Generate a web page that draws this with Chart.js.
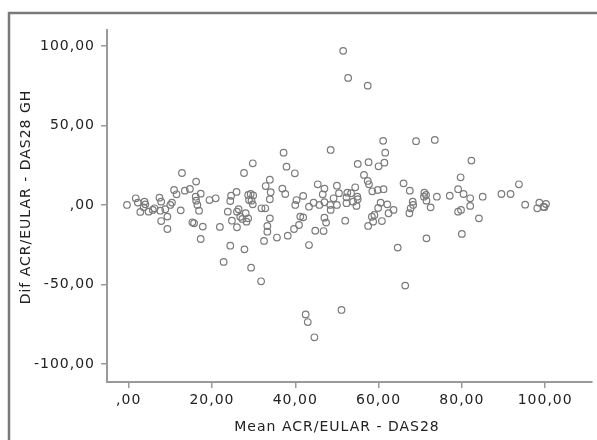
<!DOCTYPE html>
<html>
<head>
<meta charset="utf-8">
<script src="https://cdn.jsdelivr.net/npm/chart.js@4.4.1/dist/chart.umd.min.js"></script>
<style>
  html, body { margin: 0; padding: 0; background: #fff; }
  #wrap { width: 597px; height: 440px; }
</style>
</head>
<body>
<div id="wrap"><canvas id="blandAltman" width="597" height="440"></canvas></div>
<script>
// Mean of the two scores (x) and their difference (y), one entry per patient
const meanValues = [
  -0.4, 1.7, 2.2, 3.8, 4.0, 3.6, 2.8, 4.8, 5.8, 6.2, 7.4, 7.8, 7.6, 8.8, 10.0, 10.4, 9.3, 7.8, 9.3,
  10.9, 11.5, 12.8, 12.5, 13.5, 14.7, 16.2, 16.1, 16.2, 16.5, 16.9, 17.3, 15.3, 15.7, 17.8, 17.3,
  19.4, 20.9, 21.9,
  37.2, 48.5, 29.8, 27.7, 37.9, 39.9, 33.9, 32.9, 34.1, 33.9, 36.9, 37.6, 40.3, 40.0, 41.9, 43.3,
  44.4, 45.4, 47.0, 46.6, 45.8, 47.0, 48.4, 49.2, 50.0, 50.0, 48.5, 47.0, 47.4, 46.8, 44.8, 43.3,
  23.8, 24.6, 24.4, 25.9, 24.8, 26.0, 26.4, 26.8, 27.3, 28.1, 28.7, 28.3, 26.0, 28.7, 29.3, 29.9,
  28.9, 29.5, 29.8, 31.9, 32.8, 33.9, 33.3, 33.3, 32.5, 35.6, 38.2, 39.7, 40.9, 41.2, 41.9, 24.4, 27.8,
  61.6, 61.4, 60.0, 57.6, 55.0, 56.5, 57.4, 57.7, 58.5, 59.8, 61.2, 50.5, 52.5, 53.4, 52.3, 54.4,
  54.9, 55.0, 53.9, 52.3, 54.7, 52.0, 60.5, 62.1, 59.9, 63.6, 62.4, 60.8, 59.0, 58.4, 58.7, 57.5,
  66.0, 67.5, 68.2, 68.3, 67.7, 67.4, 71.0, 71.4, 70.9, 71.5, 72.5, 74.0, 77.1, 79.1, 79.7, 80.4,
  79.1, 79.8, 80.0, 71.5, 64.6,
  82.3, 82.0, 82.0, 85.0, 84.1, 89.5, 91.7, 93.7, 95.2, 98.6, 98.1, 99.6, 100.2, 99.8,
  22.8, 29.4, 31.8, 42.5, 43.0, 44.6, 51.1, 66.4, 51.5, 52.7, 57.4, 61.1, 69.0, 73.5
];
const diffValues = [
  0.0, 4.2, 1.5, 2.1, 0.4, -1.5, -4.4, -4.2, -3.1, -2.1, 4.6, 2.1, -3.6, -2.7, 0.0, 1.5, -7.3, -10.1, -15.1,
  9.4, 6.7, 20.1, -3.4, 9.0, 10.1, 14.7, 5.2, 2.7, 0.0, -3.6, 7.1, -10.9, -11.5, -13.6, -21.4,
  3.1, 4.2, -13.8,
  32.9, 34.6, 26.2, 20.1, 24.1, 19.9, 15.9, 11.9, 8.0, 3.6, 10.3, 6.9, 3.1, 0.0, 5.7, -1.1,
  1.4, 13.0, 10.3, 6.7, 0.0, 1.7, 0.0, 4.2, 12.1, 0.0, -3.1, -8.0, -11.1, -16.4, -16.2, -25.2,
  -4.2, 5.8, 2.5, 8.2, -9.9, -4.2, -2.7, -7.4, -8.8, -5.2, -8.4, -10.5, -14.0, 6.3, 6.9, 6.0,
  3.1, 2.7, 0.4, -2.1, -2.1, -8.4, -13.2, -16.8, -22.6, -20.5, -19.3, -15.1, -12.6, -7.3, -7.8, -25.6, -27.9,
  32.9, 26.6, 24.3, 26.9, 25.8, 18.9, 15.1, 13.0, 8.6, 9.4, 9.9, 7.4, 7.7, 7.4, 4.8, 11.1,
  5.2, 3.6, 2.1, 1.1, -0.6, -9.9, 1.4, 0.4, -1.9, -3.1, -5.2, -10.1, -6.3, -7.4, -10.5, -13.2,
  13.6, 9.0, 2.1, 0.0, -2.1, -5.2, 7.7, 6.3, 5.2, 2.7, -1.5, 5.2, 5.8, 9.9, 17.4, 6.9,
  -4.2, -3.1, -18.2, -21.0, -26.8,
  27.9, 4.2, -0.6, 5.2, -8.4, 6.9, 6.9, 13.0, 0.2, 1.4, -2.1, -1.1, 0.6, -1.4,
  -35.8, -39.4, -48.0, -68.8, -73.6, -83.2, -66.0, -50.7, 96.9, 79.9, 75.0, 40.3, 40.1, 40.9
];

// Axis ticks and their labels (decimal comma, as in the original)
const xTickValues = [0, 20, 40, 60, 80, 100];
const xTickLabels = [',00', '20,00', '40,00', '60,00', '80,00', '100,00'];
const yTickValues = [-100, -50, 0, 50, 100];
const yTickLabels = ['-100,00', '-50,00', ',00', '50,00', '100,00'];

const xTitle = 'Mean ACR/EULAR - DAS28';
const yTitle = 'Dif ACR/EULAR - DAS28 GH';

const points = meanValues.map((m, i) => ({ x: m, y: diffValues[i] }));

const labelFont = { family: 'DejaVu Sans', size: 14 };
const axisGray = '#9a9a9a';
const textColor = '#222';

// outer frame, text spacing and the two axis titles
const framePlugin = {
  id: 'frame',
  beforeUpdate(chart) { chart.ctx.letterSpacing = '1px'; },
  beforeDraw(chart) {
    const ctx = chart.ctx;
    ctx.letterSpacing = '1px';
    ctx.save();
    ctx.strokeStyle = '#7a7a7a';
    ctx.lineWidth = 2.5;
    ctx.strokeRect(9, 13, 700, 500);
    ctx.restore();
  },
  afterDraw(chart) {
    const ctx = chart.ctx;
    ctx.save();
    ctx.letterSpacing = '1px';
    ctx.font = '14px "DejaVu Sans"';
    ctx.fillStyle = textColor;
    ctx.textAlign = 'center';
    ctx.textBaseline = 'middle';
    ctx.fillText(xTitle, 337, 427);
    ctx.translate(26, 197);
    ctx.rotate(-Math.PI / 2);
    ctx.fillText(yTitle, 0, 0);
    ctx.restore();
  }
};

const ctx = document.getElementById('blandAltman').getContext('2d');

let chart = new Chart(ctx, {
  type: 'scatter',
  data: {
    datasets: [{
      label: 'Dif',
      data: points,
      pointStyle: 'circle',
      pointRadius: 3.3,
      pointBorderWidth: 1.2,
      pointBackgroundColor: 'rgba(255,255,255,0)',
      pointBorderColor: '#7b7b7b'
    }]
  },
  options: {
    responsive: false,
    animation: false,
    layout: { padding: { top: 30, left: 0, right: 0, bottom: 0 } },
    plugins: {
      legend: { display: false },
      tooltip: { enabled: false }
    },
    scales: {
      x: {
        type: 'linear',
        min: -5.2,
        max: 111.2,
        afterBuildTicks: (s) => { s.ticks = xTickValues.map(v => ({ value: v })); },
        afterFit: (s) => { s.height = 58; },
        grid: { drawOnChartArea: false, drawTicks: true, tickLength: 6, color: axisGray, lineWidth: 1.5 },
        border: { display: true, color: axisGray, width: 2 },
        ticks: {
          autoSkip: false,
          maxRotation: 0,
          padding: 4,
          color: textColor,
          font: labelFont,
          callback: (v) => xTickLabels[xTickValues.indexOf(v)]
        },
        title: { display: false }
      },
      y: {
        type: 'linear',
        min: -111.3,
        max: 110,
        afterBuildTicks: (s) => { s.ticks = yTickValues.map(v => ({ value: v })); },
        afterFit: (s) => { s.width = 107; },
        grid: { drawOnChartArea: false, drawTicks: true, tickLength: 6, color: axisGray, lineWidth: 1.5 },
        border: { display: true, color: axisGray, width: 2 },
        ticks: {
          autoSkip: false,
          padding: 6,
          color: textColor,
          font: labelFont,
          callback: (v) => yTickLabels[yTickValues.indexOf(v)]
        },
        title: { display: false }
      }
    }
  },
  plugins: [framePlugin]
});
</script>
</body>
</html>
